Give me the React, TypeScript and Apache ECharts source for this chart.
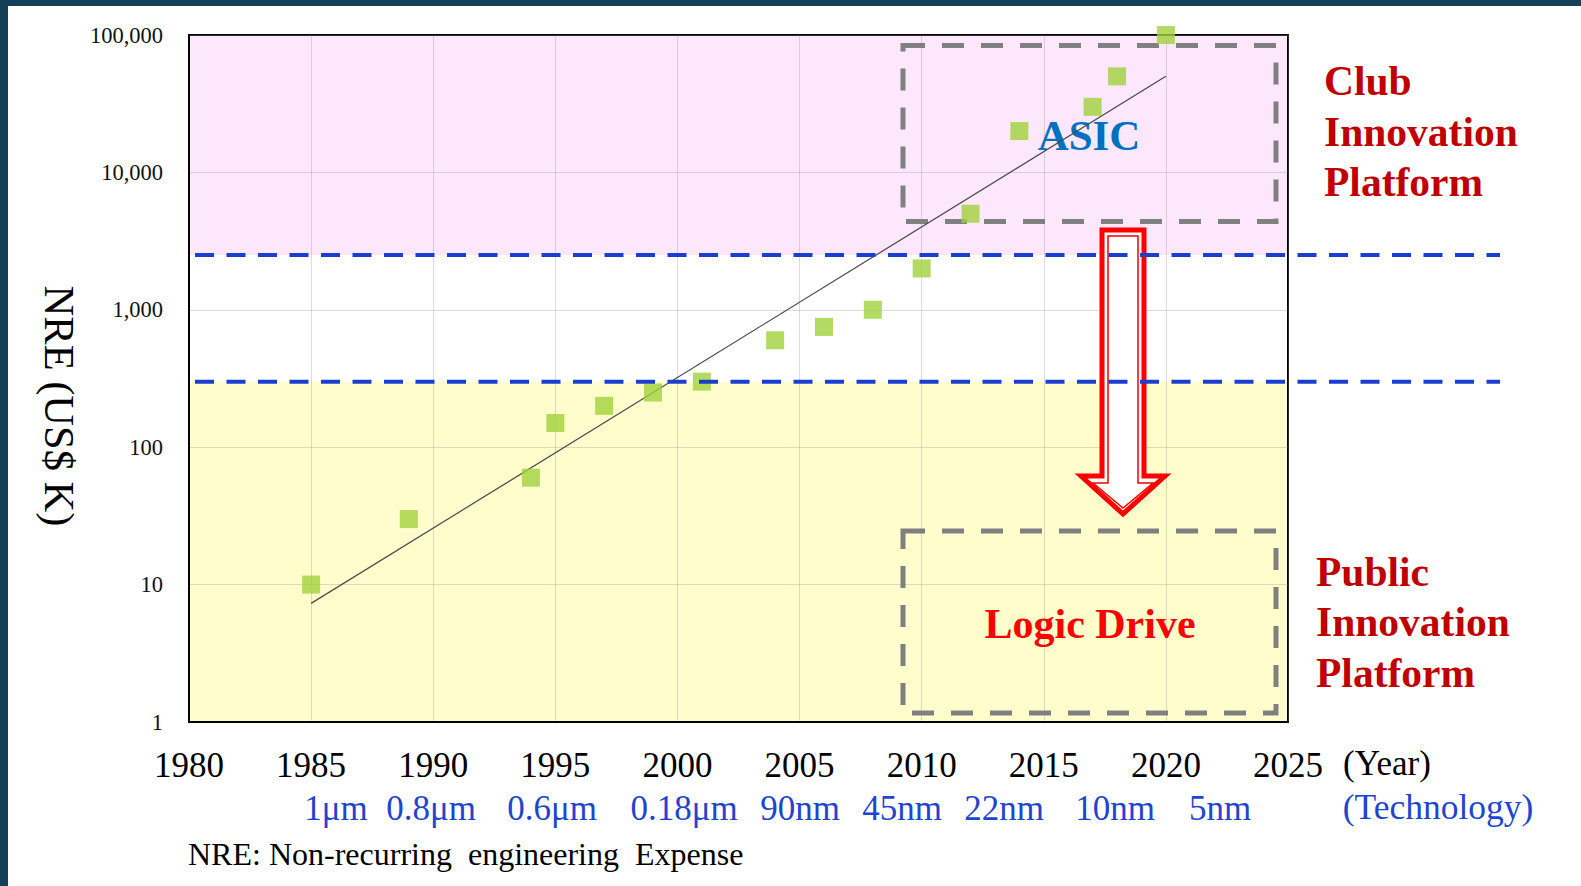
import React, { useEffect, useRef } from "react";
import * as echarts from "echarts";

// ---- data ----
const years = [1985, 1989, 1994, 1995, 1997, 1999, 2001, 2004, 2006, 2008, 2010, 2012, 2014, 2017, 2018, 2020];
const nreValues = [10, 30, 60, 150, 200, 250, 300, 600, 750, 1000, 2000, 5000, 20000, 30000, 50000, 100000];
const trendYears = [1985, 2020];
const trendValues = [7.3, 50000];
const techLabels = ["1μm", "0.8μm", "0.6μm", "0.18μm", "90nm", "45nm", "22nm", "10nm", "5nm"];
const clubThreshold = 2500;
const publicThreshold = 300;
const yearMin = 1980;
const yearMax = 2025;
const nreMin = 1;
const nreMax = 100000;

// ---- layout (pixels) ----
const techLabelX = [336, 431, 552, 684, 800, 902, 1004, 1115, 1220];
const SERIF = "'Liberation Serif', 'Times New Roman', serif";

export default function App() {
  const ref = useRef<HTMLDivElement>(null);
  useEffect(() => {
    const chart = echarts.init(ref.current!, null, { renderer: "svg" });
    const gridLine = { lineStyle: { color: "rgba(140,140,140,0.3)", width: 1 } };
    chart.setOption({
      animation: false,
      backgroundColor: "#ffffff",
      grid: {
        left: 189,
        top: 35,
        width: 1099,
        height: 687,
        show: true,
        borderColor: "#000",
        borderWidth: 2,
        backgroundColor: "transparent",
      },
      xAxis: {
        type: "value",
        min: yearMin,
        max: yearMax,
        interval: 5,
        axisLine: { show: true, lineStyle: { color: "#000", width: 2 } },
        axisTick: { show: false },
        splitLine: { show: true, ...gridLine },
        axisLabel: {
          fontFamily: SERIF,
          fontSize: 35,
          color: "#000",
          margin: 26,
          formatter: (v: number) => String(Math.round(v)),
        },
      },
      yAxis: {
        type: "log",
        logBase: 10,
        min: nreMin,
        max: nreMax,
        axisLine: { show: true, lineStyle: { color: "#000", width: 2 } },
        axisTick: { show: false },
        minorTick: { show: false },
        splitLine: { show: true, ...gridLine },
        axisLabel: {
          fontFamily: SERIF,
          fontSize: 22.5,
          color: "#111",
          margin: 26,
          formatter: (v: number) => Math.round(v).toLocaleString("en-US"),
        },
      },
      series: [
        {
          type: "line",
          data: trendYears.map((y, i) => [y, trendValues[i]]),
          symbol: "none",
          lineStyle: { color: "#4a4a4a", width: 1.2 },
          z: 3,
          silent: true,
        },
        {
          type: "scatter",
          data: years.map((y, i) => [y, nreValues[i]]),
          symbol: "rect",
          symbolSize: 18,
          itemStyle: { color: "#A0D23C" },
          clip: false,
          z: 4,
        },
      ],
    });

    const px = (x: number, y: number) => chart.convertToPixel({ gridIndex: 0 }, [x, y]) as number[];
    const pinkTL = px(yearMin, nreMax);
    const pinkBR = px(yearMax, clubThreshold);
    const yelTL = px(yearMin, publicThreshold);
    const yelBR = px(yearMax, nreMin);
    const yClub = px(yearMin, clubThreshold)[1];
    const yPublic = px(yearMin, publicThreshold)[1];

    const redText = (text: string, x: number, y: number) => ({
      type: "text",
      x,
      y,
      z: 20,
      style: {
        text,
        fontFamily: SERIF,
        fontSize: 41.5,
        fontWeight: "bold",
        fill: "#C00000",
        align: "left",
        verticalAlign: "middle",
      },
    });

    const elements: any[] = [
      // background bands
      {
        type: "rect",
        z: -1,
        shape: { x: pinkTL[0], y: pinkTL[1], width: pinkBR[0] - pinkTL[0], height: pinkBR[1] - pinkTL[1] },
        style: { fill: "#FCE7FC" },
      },
      {
        type: "rect",
        z: -1,
        shape: { x: yelTL[0], y: yelTL[1], width: yelBR[0] - yelTL[0], height: yelBR[1] - yelTL[1] },
        style: { fill: "#FFFDCC" },
      },
      // gray dashed boxes
      {
        type: "rect",
        z: 2,
        shape: { x: 903, y: 45.5, width: 373, height: 176 },
        style: { fill: "none", stroke: "#808080", lineWidth: 5, lineDash: [22, 17] },
      },
      {
        type: "rect",
        z: 2,
        shape: { x: 903, y: 531, width: 373, height: 182 },
        style: { fill: "none", stroke: "#808080", lineWidth: 5, lineDash: [22, 17] },
      },
      // arrow
      {
        type: "polygon",
        z: 2,
        shape: {
          points: [
            [1102, 230], [1144, 230], [1144, 476], [1165, 476], [1123, 514], [1081, 476], [1102, 476],
          ],
        },
        style: { fill: "#ffffff", stroke: "#FF0000", lineWidth: 5, lineJoin: "miter" },
      },
      {
        type: "polygon",
        z: 2,
        shape: {
          points: [
            [1108, 236], [1138, 236], [1138, 483], [1153, 483], [1123, 508], [1093, 483], [1108, 483],
          ],
        },
        style: { fill: "none", stroke: "#FF0000", lineWidth: 1.5, lineJoin: "miter" },
      },
      // blue dashed thresholds
      {
        type: "line",
        z: 6,
        shape: { x1: 195, y1: yClub, x2: 1500, y2: yClub },
        style: { stroke: "#1A3FD0", lineWidth: 4, lineDash: [19, 12.5] },
      },
      {
        type: "line",
        z: 6,
        shape: { x1: 195, y1: yPublic, x2: 1500, y2: yPublic },
        style: { stroke: "#1A3FD0", lineWidth: 4, lineDash: [19, 12.5] },
      },
      // ASIC / Logic Drive
      {
        type: "text",
        x: 1089,
        y: 135,
        z: 3,
        style: {
          text: "ASIC",
          fontFamily: SERIF,
          fontSize: 43,
          fontWeight: "bold",
          fill: "#0070C0",
          align: "center",
          verticalAlign: "middle",
        },
      },
      {
        type: "text",
        x: 1090,
        y: 624,
        z: 20,
        style: {
          text: "Logic Drive",
          fontFamily: SERIF,
          fontSize: 42,
          fontWeight: "bold",
          fill: "#FF0000",
          align: "center",
          verticalAlign: "middle",
        },
      },
      redText("Club", 1324, 81),
      redText("Innovation", 1324, 132),
      redText("Platform", 1324, 182),
      redText("Public", 1316, 572),
      redText("Innovation", 1316, 622),
      redText("Platform", 1316, 673),
      // axis name
      {
        type: "text",
        x: 59,
        y: 406,
        rotation: -Math.PI / 2,
        z: 20,
        style: {
          text: "NRE (US$ K)",
          fontFamily: SERIF,
          fontSize: 42.5,
          fill: "#000",
          align: "center",
          verticalAlign: "middle",
        },
      },
      {
        type: "text",
        x: 1343,
        y: 763,
        z: 20,
        style: { text: "(Year)", fontFamily: SERIF, fontSize: 35, fill: "#000", align: "left", verticalAlign: "middle" },
      },
      {
        type: "text",
        x: 1438,
        y: 807,
        z: 20,
        style: {
          text: "(Technology)",
          fontFamily: SERIF,
          fontSize: 35.5,
          fill: "#1F45D0",
          align: "center",
          verticalAlign: "middle",
        },
      },
      {
        type: "text",
        x: 188,
        y: 854,
        z: 20,
        style: {
          text: "NRE: Non-recurring\u00A0 engineering\u00A0 Expense",
          fontFamily: SERIF,
          fontSize: 32,
          fill: "#000",
          align: "left",
          verticalAlign: "middle",
        },
      },
      ...techLabels.map((t, i) => ({
        type: "text",
        x: techLabelX[i],
        y: 808,
        z: 20,
        style: {
          text: t,
          fontFamily: SERIF,
          fontSize: 35,
          fill: "#1F45D0",
          align: "center",
          verticalAlign: "middle",
        },
      })),
      // dark frame on the left and top
      { type: "rect", z: 30, shape: { x: 0, y: 0, width: 8, height: 886 }, style: { fill: "#133F57" } },
      { type: "rect", z: 30, shape: { x: 0, y: 0, width: 1581, height: 6 }, style: { fill: "#133F57" } },
    ];

    chart.setOption({ graphic: { elements } });
    return () => chart.dispose();
  }, []);
  return (
    <div
      ref={ref}
      style={{ position: "fixed", left: 0, top: 0, width: 1581, height: 886, background: "#fff" }}
    />
  );
}
